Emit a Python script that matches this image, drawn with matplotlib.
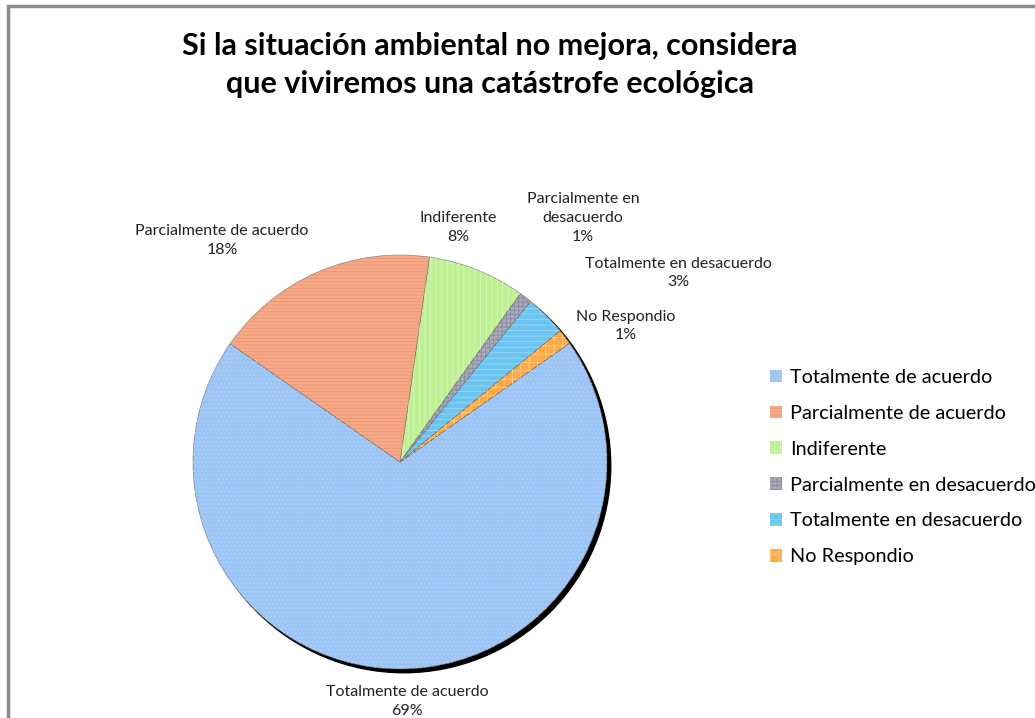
import matplotlib
matplotlib.use('Agg')
import matplotlib.pyplot as plt
from matplotlib.patches import Rectangle, Circle

plt.rcParams['font.family'] = ['Lato', 'DejaVu Sans']
plt.rcParams['hatch.linewidth'] = 0.6

categorias = ['Totalmente de acuerdo', 'Parcialmente de acuerdo', 'Indiferente',
              'Parcialmente en desacuerdo', 'Totalmente en desacuerdo', 'No Respondio']
valores = [69.4, 17.6, 7.6, 1.0, 3.2, 1.2]
nombres_etq = ['Totalmente de acuerdo', 'Parcialmente de acuerdo', 'Indiferente',
               'Parcialmente en\ndesacuerdo', 'Totalmente en desacuerdo', 'No Respondio']

colores = ['#9cc4f4', '#f7a985', '#c0f096', '#aaaabb', '#6cc4f0', '#ffaa44']
tramas = ['....', '-----', '|||', '++++', '---', '++']
color_trama = ['#b0d2f8', '#e99877', '#d6f8b6', '#8c8ca0', '#9ad8f6', '#ffd090']
pos_etq = [(0.034, -1.155), (-0.86, 1.07), (0.28, 1.135), (0.884, 1.18),
           (1.343, 0.913), (1.092, 0.657)]

fig = plt.figure(figsize=(10.35, 7.18), dpi=100)
fig.patches.append(Rectangle((8/1035, -0.1), 1.2, 1 - 6/718 + 0.1, transform=fig.transFigure,
                             fill=False, edgecolor='#8c8c8c', linewidth=2.5))

cx, cy, r = 400, 462, 207
ax = fig.add_axes([(cx - r)/1035, (718 - cy - r)/718, 2*r/1035, 2*r/718])
ax.axis('off')

# sombra
ax.add_patch(Circle((0.018, -0.018), 1.0, color='black', zorder=0, clip_on=False))

wedges, _ = ax.pie(valores, colors=colores, startangle=35, counterclock=False,
                   radius=1, wedgeprops=dict(edgecolor='#707070', linewidth=0.4))
w2, _ = ax.pie(valores, colors=['none']*6, startangle=35, counterclock=False, radius=1,
               wedgeprops=dict(linewidth=0))
for w, h, hc in zip(w2, tramas, color_trama):
    w.set_facecolor('none')
    w.set_hatch(h)
    w.set_edgecolor(hc)
ax.set_xlim(-1, 1)
ax.set_ylim(-1, 1)

for n, v, (x, y) in zip(nombres_etq, valores, pos_etq):
    ax.text(x, y, f'{n}\n{round(v)}%', ha='center', va='center', fontsize=11.5,
            color='#222222', linespacing=1.45)

fig.text(490/1035, 1 - 65/718,
         'Si la situación ambiental no mejora, considera\nque viviremos una catástrofe ecológica',
         ha='center', va='center', fontsize=22, fontweight='bold', linespacing=1.45)

handles = [Rectangle((0, 0), 1, 1, facecolor=c, hatch=h, edgecolor=hc, linewidth=0)
           for c, h, hc in zip(colores, tramas, color_trama)]
fig.legend(handles, categorias, loc='upper left', bbox_to_anchor=(770/1035, 1 - 369/718),
           frameon=False, fontsize=14.3, handlelength=0.6, handleheight=0.6,
           handletextpad=0.4, labelspacing=0.95, borderpad=0, borderaxespad=0)

fig.savefig('out.png', dpi=100)
